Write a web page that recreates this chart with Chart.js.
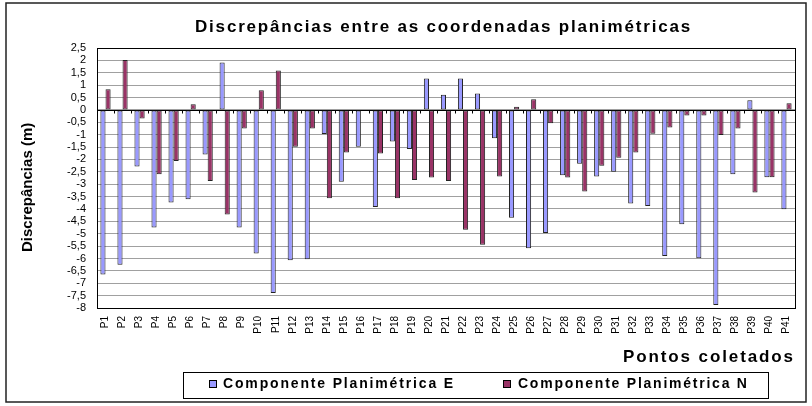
<!DOCTYPE html>
<html>
<head>
<meta charset="utf-8">
<script src="https://cdn.jsdelivr.net/npm/chart.js@4.4.0/dist/chart.umd.min.js"></script>
<style>
  html, body { margin: 0; padding: 0; background: #fff; }
</style>
</head>
<body>
<canvas id="chart" width="812" height="406"></canvas>
<script>
// Dados do gráfico
const pontos = ['P1', 'P2', 'P3', 'P4', 'P5', 'P6', 'P7', 'P8', 'P9', 'P10',
    'P11', 'P12', 'P13', 'P14', 'P15', 'P16', 'P17', 'P18', 'P19', 'P20',
    'P21', 'P22', 'P23', 'P24', 'P25', 'P26', 'P27', 'P28', 'P29', 'P30',
    'P31', 'P32', 'P33', 'P34', 'P35', 'P36', 'P37', 'P38', 'P39', 'P40', 'P41'];

const componenteE = [-6.65, -6.25, -2.29, -4.75, -3.74, -3.61, -1.8, 1.91, -4.75, -5.8,
    -7.39, -6.07, -6.03, -0.97, -2.9, -1.49, -3.92, -1.28, -1.58, 1.27,
    0.61, 1.27, 0.66, -1.14, -4.36, -5.59, -4.97, -2.64, -2.17, -2.69,
    -2.5, -3.78, -3.88, -5.9, -4.62, -5.99, -7.88, -2.6, 0.39, -2.72, -4.01];

const componenteN = [0.83, 2.02, -0.35, -2.6, -2.06, 0.23, -2.87, -4.22, -0.75, 0.79,
    1.59, -1.49, -0.75, -3.57, -1.72, 0, -1.76, -3.57, -2.83, -2.73,
    -2.87, -4.84, -5.45, -2.69, 0.13, 0.43, -0.54, -2.73, -3.3, -2.26,
    -1.93, -1.72, -0.96, -0.71, -0.23, -0.23, -1.01, -0.75, -3.34, -2.72, 0.27];

const rotulosY = [2.5, 2, 1.5, 1, 0.5, 0, -0.5, -1, -1.5, -2, -2.5, -3, -3.5, -4,
    -4.5, -5, -5.5, -6, -6.5, -7, -7.5, -8];

const titulo = 'Discrepâncias entre as coordenadas planimétricas';
const tituloY = 'Discrepâncias (m)';
const tituloX = 'Pontos coletados';
const nomesSeries = ['Componente Planimétrica E', 'Componente Planimétrica N'];
const coresSeries = ['#9999ff', '#993366'];

const FONTE = '"Liberation Sans", Arial, sans-serif';

// texto com espaçamento entre letras ajustado para caber na largura
function textoEspacado(ctx, texto, x, y, largura) {
    ctx.letterSpacing = '0px';
    const w = ctx.measureText(texto).width;
    const esp = Math.max(0, (largura - w) / (texto.length - 1));
    ctx.letterSpacing = esp.toFixed(2) + 'px';
    ctx.textAlign = 'left';
    ctx.textBaseline = 'middle';
    ctx.fillText(texto, x, y);
    ctx.letterSpacing = '0px';
}

const moldura = {
    id: 'moldura',
    beforeDatasetsDraw(chart) {
        const { ctx, chartArea: a, scales: { x, y } } = chart;
        const y0 = Math.round(y.getPixelForValue(0)) + 0.5;
        ctx.save();
        ctx.strokeStyle = '#000';
        ctx.lineWidth = 1;
        ctx.beginPath();
        ctx.moveTo(a.left, y0);
        ctx.lineTo(a.right, y0);
        // marcas da linha do zero entre as categorias
        for (let i = 0; i <= pontos.length; i++) {
            const px = Math.round(x.getPixelForValue(i - 0.5)) + 0.5;
            ctx.moveTo(px, y0);
            ctx.lineTo(px, y0 + 3);
        }
        ctx.stroke();
        ctx.restore();
    },
    afterDraw(chart) {
        const { ctx, chartArea: a } = chart;
        ctx.save();
        ctx.strokeStyle = '#000';
        ctx.lineWidth = 1;
        // área do gráfico
        ctx.strokeRect(Math.round(a.left) + 0.5, Math.round(a.top) + 0.5,
            Math.round(a.right - a.left), Math.round(a.bottom - a.top));
        // borda externa
        ctx.lineWidth = 1.5;
        ctx.strokeStyle = '#222';
        ctx.strokeRect(6, 3, 800, 399);

        ctx.fillStyle = '#000';
        // título
        ctx.font = 'bold 17px ' + FONTE;
        textoEspacado(ctx, titulo, 195, 27, 495);

        // título do eixo x
        ctx.font = 'bold 17px ' + FONTE;
        textoEspacado(ctx, tituloX, 623, 357, 170);

        // título do eixo y
        ctx.save();
        ctx.translate(28, 198);
        ctx.rotate(-Math.PI / 2);
        ctx.font = 'bold 15px ' + FONTE;
        textoEspacado(ctx, tituloY, -54, 0, 107);
        ctx.restore();

        // legenda
        ctx.lineWidth = 1;
        ctx.strokeStyle = '#000';
        ctx.strokeRect(183.5, 372.5, 585, 26);
        const itens = [
            { mx: 209, tx: 223, w: 230 },
            { mx: 503, tx: 518, w: 229 }
        ];
        ctx.font = 'bold 14px ' + FONTE;
        itens.forEach((it, i) => {
            ctx.fillStyle = coresSeries[i];
            ctx.fillRect(it.mx + 0.5, 380.5, 7, 7);
            ctx.strokeRect(it.mx + 0.5, 380.5, 7, 7);
            ctx.fillStyle = '#000';
            textoEspacado(ctx, nomesSeries[i], it.tx, 384.5, it.w);
        });
        ctx.restore();
    }
};

const ctx = document.getElementById('chart').getContext('2d');

new Chart(ctx, {
    type: 'bar',
    data: {
        labels: pontos,
        datasets: [{
            label: nomesSeries[0],
            data: componenteE,
            backgroundColor: coresSeries[0],
            borderColor: '#222',
            borderWidth: 1,
            borderSkipped: false
        }, {
            label: nomesSeries[1],
            data: componenteN,
            backgroundColor: coresSeries[1],
            borderColor: '#222',
            borderWidth: 1,
            borderSkipped: false
        }]
    },
    options: {
        responsive: false,
        animation: false,
        devicePixelRatio: 1,
        layout: { padding: { top: 48, right: 17, bottom: 40, left: 0 } },
        datasets: { bar: { barPercentage: 1, categoryPercentage: 0.6 } },
        plugins: {
            legend: { display: false },
            title: { display: false },
            tooltip: { enabled: false }
        },
        scales: {
            x: {
                grid: { display: false, drawTicks: false },
                border: { display: false },
                ticks: {
                    autoSkip: false,
                    minRotation: 90,
                    maxRotation: 90,
                    padding: 8,
                    color: '#000',
                    font: { family: FONTE, size: 10 }
                },
                afterFit(scale) { scale.height = 58; }
            },
            y: {
                min: -8,
                max: 2.5,
                grid: { color: '#a0a0a0', drawTicks: false },
                border: { display: false },
                ticks: {
                    autoSkip: false,
                    padding: 11,
                    color: '#000',
                    font: { family: FONTE, size: 11, lineHeight: 1 },
                    callback: v => String(v).replace('.', ',')
                },
                afterBuildTicks(scale) {
                    scale.ticks = rotulosY.map(v => ({ value: v }));
                },
                afterFit(scale) { scale.width = 97; }
            }
        }
    },
    plugins: [moldura]
});
</script>
</body>
</html>
